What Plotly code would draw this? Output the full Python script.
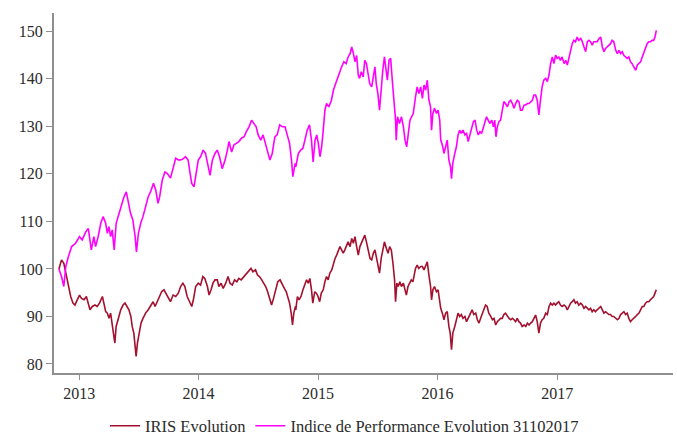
import pandas as pd
import plotly.graph_objects as go

START = "2012-10-31"

# ---- Indice de Performance Evolution 31102017 (days since start, value) ----
indice_days = [
    0, 8, 15, 21, 29, 39, 51, 63, 71, 82, 90, 95, 99, 107, 112, 120, 128, 135, 143, 148,
    153, 158, 163, 169, 175, 184, 192, 199, 206, 212, 219, 226, 233, 237, 243, 250, 257, 265, 273, 280,
    289, 296, 303, 308, 316, 324, 331, 341, 349,
    357, 367, 377, 387, 395, 401, 406, 413, 420, 426, 433, 441, 448, 456, 462, 469, 477, 484, 491, 499,
    508, 515, 520, 528, 535, 542, 550, 558, 566, 573, 581, 589, 596, 603, 609, 617, 624, 630, 637, 645,
    652, 660, 667, 675, 683, 691, 698, 705, 711, 715, 722,
    724, 732, 739, 746, 752, 759, 766, 772, 777, 783, 788, 793, 798, 803, 808, 813, 818, 825, 833, 839,
    846, 851, 856, 864, 871, 878, 884, 890, 895, 899, 905, 910, 915, 919, 924, 930, 935, 940, 945, 950,
    956, 961, 966, 970, 975, 980, 985, 990, 995, 999, 1004, 1009, 1014, 1019, 1024, 1029, 1031, 1035, 1041, 1047,
    1053, 1058, 1063, 1068, 1073, 1078, 1083,
    1090, 1095, 1100, 1106, 1111, 1116, 1121, 1126, 1131, 1136, 1139, 1143, 1148, 1154, 1159, 1164, 1167, 1172, 1177, 1182,
    1187, 1192, 1197, 1200, 1204, 1210, 1215, 1220, 1225, 1230, 1235, 1241, 1246, 1251, 1256, 1261, 1267, 1272, 1277, 1282,
    1287, 1292, 1297, 1302, 1307, 1312, 1317, 1323, 1328, 1332, 1336, 1340, 1345, 1350, 1355, 1360, 1365, 1371, 1376, 1381,
    1386, 1391, 1396, 1401, 1406, 1411, 1416, 1422, 1427, 1432, 1437, 1442, 1447, 1452,
    1457, 1462, 1467, 1472, 1477, 1482, 1488, 1493, 1498, 1503, 1508, 1513, 1518, 1523, 1528, 1533, 1538, 1544, 1549, 1554,
    1559, 1564, 1569, 1574, 1579, 1584, 1589, 1595, 1600, 1605, 1610, 1615, 1620, 1625, 1630, 1635, 1640, 1645, 1651, 1656,
    1661, 1666, 1671, 1676, 1681, 1686, 1691, 1696, 1702, 1707, 1712, 1717, 1722, 1727, 1732, 1737, 1742, 1747, 1752, 1758,
    1763, 1768, 1773, 1778, 1783, 1788, 1793, 1798, 1803, 1808, 1813, 1818, 1822, 1826,
]
indice_values = [
    100, 98.4, 96.3, 100.5, 102.6, 104.7, 105.4, 106.8, 106.1, 107.8, 108.5, 106.1, 104.0, 106.8, 104.7, 106.8, 109.6, 111.0, 109.6, 107.5,
    108.9, 106.8, 108.2, 104.0, 109.6, 111.7, 113.8, 115.2, 116.2, 114.1, 111.7, 110.3, 106.8, 103.6, 107.5, 109.6, 111.0, 113.1, 115.2, 116.2,
    118.0, 116.6, 113.8, 115.2, 118.7, 120.4, 120.1, 119.1, 121.5,
    123.3, 122.9, 123.0, 123.6, 122.9, 120.1, 118.0, 117.3, 120.1, 122.9, 123.6, 125.0, 124.3, 121.5, 119.7, 122.9, 124.3, 125.0, 123.6, 121.1,
    122.9, 125.0, 126.8, 124.6, 126.1, 126.4, 126.8, 127.5, 127.8, 128.9, 129.9, 131.3, 130.6, 129.9, 128.2, 127.1, 128.2, 126.8, 125.0, 122.9,
    124.3, 127.8, 128.2, 130.3, 129.9, 129.9, 128.2, 126.4, 122.9, 119.4, 122.2,
    121.5, 124.3, 125.0, 125.4, 127.1, 129.2, 130.3, 127.1, 122.5, 127.1, 128.2, 126.4, 123.6, 125.7, 129.2, 133.4, 134.8, 134.1, 135.5, 137.6,
    139.0, 140.1, 141.1, 142.5, 143.6, 143.2, 144.6, 145.3, 146.7, 145.7, 143.6, 144.9, 140.8, 140.1, 141.5, 140.4, 143.9, 143.2, 141.1, 139.0,
    138.3, 140.4, 142.5, 139.0, 136.9, 133.4, 138.3, 141.8, 144.6, 141.8, 139.7, 143.9, 144.3, 139.7, 135.5, 131.3, 127.1, 132.0, 130.6, 132.0,
    129.9, 127.1, 125.7, 129.2, 131.3, 132.0, 132.7,
    136.2, 138.3, 136.9, 138.3, 135.9, 138.7, 137.6, 139.7, 135.5, 134.1, 129.2, 132.7, 133.8, 132.7, 133.4, 131.3, 127.1, 126.1, 124.3, 125.7,
    127.1, 122.9, 121.5, 119.0, 122.2, 124.3, 125.7, 128.2, 129.2, 128.5, 129.2, 128.2, 128.5, 126.8, 128.2, 129.9, 131.0, 131.3, 129.2, 128.2,
    128.9, 128.5, 129.6, 130.6, 132.0, 131.3, 130.6, 131.3, 129.9, 131.3, 127.8, 129.9, 131.0, 131.3, 133.4, 135.2, 134.8, 134.1, 135.2, 135.5,
    134.8, 133.8, 134.8, 135.5, 135.2, 133.4, 133.4, 134.5, 134.5, 134.8, 134.8, 135.2, 135.5, 136.6,
    136.6, 135.5, 132.4, 135.5, 138.3, 139.7, 140.1, 139.4, 140.8, 143.2, 144.6, 143.2, 145.0, 144.3, 144.6, 143.9, 144.6, 143.2, 143.9, 142.9,
    144.3, 146.0, 147.4, 148.1, 147.8, 148.8, 148.1, 148.5, 147.8, 146.7, 145.7, 147.8, 148.1, 147.8, 147.1, 147.8, 147.8, 147.8, 148.5, 148.8,
    146.7, 145.7, 146.4, 146.7, 147.1, 147.4, 148.1, 147.8, 146.0, 145.3, 146.0, 145.3, 145.7, 144.9, 144.6, 144.3, 144.6, 143.6, 143.2, 142.5,
    141.8, 142.9, 143.2, 143.6, 144.6, 145.7, 146.4, 147.4, 147.8, 147.8, 148.1, 148.1, 148.8, 150.2,
]

# ---- IRIS Evolution (days since start, value) ----
iris_days = [
    0, 8, 15, 21, 26, 31, 36, 43, 49, 56, 63, 69, 77, 84, 90, 95, 102, 110, 117, 124,
    133, 138, 143, 148, 153, 158, 163, 167, 171, 175, 182, 189, 196, 202, 208, 214, 220, 224, 229, 232,
    236, 240, 245, 251, 257, 265, 273, 280, 288, 294, 301, 308, 314, 321, 326, 334, 341, 349,
    357, 365, 372, 379, 385, 392, 400, 406, 411, 418, 426, 433, 440, 446, 454, 459, 465, 471, 477, 484,
    489, 496, 502, 510, 517, 523, 530, 537, 544, 550, 557, 565, 571, 579, 587, 593, 601, 607, 613, 620,
    626, 632, 638, 644, 650, 656, 662, 669, 676, 683, 689, 695, 700, 705, 710, 714, 718, 723,
    724, 729, 734, 740, 746, 752, 757, 762, 767, 772, 776, 782, 787, 792, 797, 802, 808, 813, 818, 823,
    828, 834, 839, 844, 849, 854, 859, 864, 869, 874, 879, 884, 890, 895, 900, 905, 910, 915, 920, 925,
    930, 935, 940, 946, 951, 956, 961, 966, 971, 976, 980, 985, 990, 995, 1001, 1006, 1011, 1016, 1021, 1026,
    1029, 1033, 1037, 1042, 1047, 1053, 1058, 1062, 1067, 1072, 1077, 1082,
    1090, 1095, 1100, 1106, 1111, 1116, 1121, 1126, 1131, 1136, 1139, 1143, 1148, 1154, 1159, 1164, 1167, 1172, 1177, 1182,
    1187, 1192, 1196, 1200, 1204, 1210, 1215, 1220, 1225, 1230, 1235, 1241, 1246, 1251, 1256, 1263, 1268, 1274, 1279, 1284,
    1289, 1294, 1299, 1304, 1309, 1314, 1320, 1325, 1330, 1335, 1340, 1345, 1350, 1355, 1360, 1365, 1371, 1376, 1381, 1386,
    1391, 1396, 1401, 1406, 1411, 1416, 1422, 1427, 1432, 1437, 1442, 1447, 1452,
    1457, 1462, 1467, 1472, 1477, 1482, 1488, 1493, 1498, 1503, 1508, 1513, 1518, 1523, 1528, 1533, 1538, 1544, 1549, 1554,
    1559, 1564, 1569, 1574, 1579, 1584, 1589, 1595, 1600, 1605, 1610, 1615, 1620, 1625, 1630, 1635, 1640, 1645, 1651, 1656,
    1661, 1666, 1671, 1676, 1681, 1686, 1691, 1696, 1702, 1707, 1712, 1717, 1722, 1727, 1732, 1737, 1742, 1747, 1752, 1758,
    1763, 1768, 1773, 1778, 1783, 1788, 1793, 1798, 1803, 1808, 1813, 1818, 1822, 1826,
]
iris_values = [
    100, 101.9, 101.2, 99.1, 97.0, 95.2, 94.2, 92.8, 92.4, 93.5, 94.5, 93.8, 93.5, 94.2, 92.8, 91.4, 92.1, 92.4, 92.1, 92.8,
    94.2, 92.8, 91.0, 90.7, 89.6, 90.7, 87.9, 86.1, 84.4, 87.9, 89.6, 91.4, 92.4, 92.8, 92.1, 91.4, 90.0, 87.9, 86.5, 84.0,
    81.6, 84.4, 86.5, 88.6, 89.6, 90.7, 91.4, 92.1, 93.1, 92.1, 93.1, 94.2, 95.2, 95.6, 94.9, 93.8, 93.1, 94.5,
    94.2, 94.9, 96.3, 97.0, 96.3, 94.2, 93.1, 92.1, 93.5, 96.3, 97.0, 96.6, 98.4, 98.0, 96.3, 94.5, 95.6, 97.0, 97.7, 97.7,
    96.3, 97.0, 95.9, 97.0, 98.4, 97.0, 96.6, 97.7, 97.3, 98.0, 97.7, 98.4, 98.7, 99.4, 100.1, 99.4, 99.8, 98.7, 98.4, 97.7,
    97.0, 96.3, 95.2, 93.5, 92.4, 93.8, 95.6, 97.3, 97.7, 96.6, 95.9, 95.2, 94.2, 92.8, 90.7, 88.2, 90.7, 92.1,
    91.4, 94.2, 93.5, 94.2, 95.6, 97.0, 97.7, 97.0, 98.0, 95.6, 92.8, 95.2, 94.9, 94.2, 93.1, 94.9, 95.6, 97.3, 98.4, 97.7,
    99.1, 99.8, 101.2, 102.2, 102.9, 104.0, 104.7, 104.0, 103.3, 104.0, 104.7, 105.7, 104.7, 106.4, 105.4, 106.8, 104.7, 102.9, 104.7, 105.4,
    106.1, 107.1, 105.7, 104.0, 102.2, 101.9, 103.3, 104.0, 101.9, 100.1, 99.1, 102.2, 104.0, 105.7, 104.3, 103.3, 104.7, 104.0, 101.2, 97.7,
    93.1, 97.0, 96.3, 97.3, 96.3, 97.0, 95.6, 94.5, 96.3, 97.0, 97.7, 97.3,
    100.1, 100.8, 100.1, 100.5, 100.5, 99.8, 100.5, 101.5, 98.7, 96.3, 93.5, 95.6, 96.3, 95.2, 95.6, 93.5, 91.7, 90.7, 89.3, 90.7,
    91.0, 87.9, 86.5, 83.0, 86.5, 87.9, 89.6, 90.7, 90.0, 90.4, 89.6, 90.0, 88.9, 89.6, 90.4, 91.4, 90.4, 90.7, 89.3, 88.6,
    89.6, 90.4, 91.4, 92.4, 92.1, 90.7, 90.0, 89.3, 89.6, 88.2, 88.9, 89.3, 89.6, 89.6, 90.4, 90.7, 90.0, 89.6, 89.3, 89.6,
    89.3, 88.9, 89.6, 88.9, 88.6, 87.9, 88.2, 87.9, 88.6, 88.2, 88.6, 88.9, 89.6,
    90.3, 88.9, 86.5, 88.6, 89.3, 89.6, 90.7, 90.4, 92.1, 92.8, 92.4, 92.8, 92.4, 92.8, 93.1, 92.4, 92.1, 92.4, 92.1, 91.4,
    92.1, 92.8, 93.1, 93.5, 92.8, 93.1, 92.4, 92.8, 92.4, 91.7, 92.1, 91.7, 91.4, 91.7, 91.0, 91.4, 91.0, 91.4, 91.7, 92.1,
    91.4, 90.7, 91.0, 90.7, 90.4, 90.4, 90.0, 90.0, 89.6, 89.3, 89.6, 90.4, 90.7, 91.0, 90.4, 90.7, 89.6, 88.9, 89.3, 89.6,
    90.0, 90.4, 90.7, 91.4, 92.1, 92.1, 92.8, 93.1, 93.1, 93.5, 93.8, 94.2, 94.9, 95.6,
]

series_names = ["IRIS Evolution", "Indice de Performance Evolution 31102017"]
y_ticks = [80, 90, 100, 110, 120, 130, 140, 150]

assert len(indice_days) == len(indice_values), (len(indice_days), len(indice_values))
assert len(iris_days) == len(iris_values), (len(iris_days), len(iris_values))

start = pd.Timestamp(START)
iris_dates = start + pd.to_timedelta(iris_days, unit="D")
indice_dates = start + pd.to_timedelta(indice_days, unit="D")

FONT = "Liberation Serif, Times New Roman, serif"
AXIS_COLOR = "#8f8f8f"
TEXT_COLOR = "#2b2b2b"

fig = go.Figure()
fig.add_trace(go.Scatter(x=iris_dates, y=iris_values, mode="lines", name=series_names[0],
                         line=dict(color="#A3112E", width=1.6)))
fig.add_trace(go.Scatter(x=indice_dates, y=indice_values, mode="lines", name=series_names[1],
                         line=dict(color="#FF00FF", width=1.6)))

fig.update_layout(
    width=677, height=437,
    margin=dict(l=54, r=4, t=13, b=64),
    paper_bgcolor="white", plot_bgcolor="white",
    font=dict(family=FONT, size=16, color=TEXT_COLOR),
    showlegend=True,
    legend=dict(orientation="h", xref="container", yref="container",
                x=105 / 677, xanchor="left", y=11 / 437, yanchor="middle",
                font=dict(family=FONT, size=16.5, color=TEXT_COLOR), bgcolor="rgba(0,0,0,0)"),
    xaxis=dict(
        type="date",
        range=["2012-10-16", "2017-12-21"],
        tick0="2013-01-01", dtick="M12", tickformat="%Y",
        showgrid=False, zeroline=False,
        showline=True, linecolor=AXIS_COLOR, linewidth=2,
        ticks="outside", ticklen=5, tickcolor=AXIS_COLOR, tickwidth=1,
        tickfont=dict(family=FONT, size=16, color=TEXT_COLOR),
    ),
    yaxis=dict(
        range=[78.1, 153.85],
        tickvals=y_ticks,
        showgrid=False, zeroline=False,
        showline=True, linecolor=AXIS_COLOR, linewidth=2,
        ticks="outside", ticklen=6, tickcolor=AXIS_COLOR, tickwidth=1,
        tickfont=dict(family=FONT, size=16, color=TEXT_COLOR),
    ),
)

fig.write_html("out.html", config={"displayModeBar": False},
               post_script="document.body.style.margin='0';")
